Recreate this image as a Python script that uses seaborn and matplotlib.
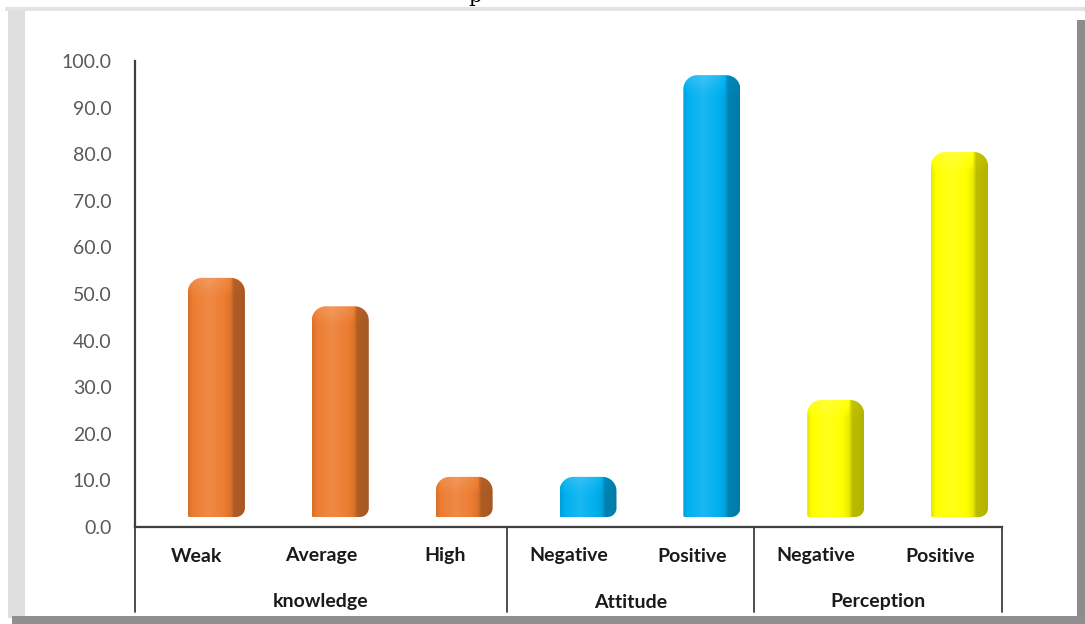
import numpy as np
import pandas as pd
import matplotlib
matplotlib.use("Agg")
import matplotlib.pyplot as plt
import seaborn as sns
from matplotlib.path import Path
from matplotlib.patches import PathPatch, Rectangle
from matplotlib.colors import to_rgb

# ---- data -------------------------------------------------------------
groups = ["knowledge", "knowledge", "knowledge", "Attitude", "Attitude", "Perception", "Perception"]
levels = ["Weak", "Average", "High", "Negative", "Positive", "Negative", "Positive"]
values = [49.6, 43.5, 6.9, 6.9, 93.1, 23.4, 76.6]
group_names = ["knowledge", "Attitude", "Perception"]
group_colors = {"knowledge": "#ED7D31", "Attitude": "#00B0F0", "Perception": "#FFFF00"}
yticks = [0, 10, 20, 30, 40, 50, 60, 70, 80, 90, 100]

df = pd.DataFrame({
    "item": [f"{g}|{l}" for g, l in zip(groups, levels)],
    "group": groups,
    "level": levels,
    "value": values,
})

# ---- figure -----------------------------------------------------------
W, H, DPI = 1085, 624, 100
sns.set_theme(style="white")
plt.rcParams["font.family"] = ["Lato", "DejaVu Sans"]

fig = plt.figure(figsize=(W / DPI, H / DPI), dpi=DPI, facecolor="white")
ax_left, ax_right, ax_top, ax_bottom = 135, 1002, 61, 527  # pixel box of plot area
ax = fig.add_axes([ax_left / W, 1 - ax_bottom / H,
                   (ax_right - ax_left) / W, (ax_bottom - ax_top) / H])
ax.set_facecolor("white")

sns.barplot(data=df, x="item", y="value", hue="group", palette=group_colors,
            dodge=False, width=0.46, legend=False, ax=ax, order=df["item"])

ax.set_xlim(-0.5, len(df) - 0.5)
ax.set_ylim(0, 100)
ax.set_yticks(yticks)
ax.set_yticklabels([f"{v:.1f}" for v in yticks], color="#595959", fontsize=14)
ax.tick_params(axis="y", length=0, pad=17)
ax.set_xticks([])
ax.set_xlabel("")
ax.set_ylabel("")
for side in ["top", "right"]:
    ax.spines[side].set_visible(False)
for side in ["left", "bottom"]:
    ax.spines[side].set_color("#3f3f3f")
    ax.spines[side].set_linewidth(1.6)

# ---- cylinder-style bars ---------------------------------------------
def rounded_path(x0, y0, x1, y1, r_tl, r_tr, r_br, r_bl, n=14):
    pts = []

    def arc(cx, cy, r, a0, a1):
        for a in np.linspace(a0, a1, n):
            pts.append((cx + r * np.cos(a), cy + r * np.sin(a)))

    arc(x0 + r_bl, y0 + r_bl, r_bl, np.pi, 1.5 * np.pi)
    arc(x1 - r_br, y0 + r_br, r_br, 1.5 * np.pi, 2 * np.pi)
    arc(x1 - r_tr, y1 - r_tr, r_tr, 0, 0.5 * np.pi)
    arc(x0 + r_tl, y1 - r_tl, r_tl, 0.5 * np.pi, np.pi)
    pts.append(pts[0])
    return np.array(pts)


def shade(color, f):
    c = np.array(to_rgb(color))
    if f >= 1:
        return c + (1 - c) * (f - 1)
    return c * f


# horizontal brightness profile across a bar (front face + dark side face)
prof_x = np.array([0.0, 0.08, 0.35, 0.62, 0.74, 0.80, 1.0])
prof_f = np.array([0.90, 1.00, 1.10, 1.00, 0.92, 0.74, 0.70])

fig.canvas.draw()
to_px = ax.transData
to_data = ax.transData.inverted()
dx_px, dy_px, cap_px, bar_w_px = 19.5, 10.0, 8.0, 57.0

bars = [p for p in ax.patches if p.get_height() > 0]
bars.sort(key=lambda p: p.get_x())
for patch, grp in zip(bars, df["group"]):
    color = group_colors[grp]
    xc = patch.get_x() + patch.get_width() / 2
    (cx, y0), = to_px.transform([(xc, 0)])
    (_, y1), = to_px.transform([(xc, patch.get_height())])
    px0 = cx + dx_px - bar_w_px / 2
    px1 = cx + dx_px + bar_w_px / 2
    py0 = y0 + dy_px
    py1 = y1 + dy_px + cap_px
    r_top = min(14.0, (py1 - py0) / 2)
    verts_px = rounded_path(px0, py0, px1, py1, r_top, r_top, 9.0, 1.5)
    verts = to_data.transform(verts_px)
    clip = PathPatch(Path(verts), facecolor="none", edgecolor="none")
    ax.add_patch(clip)

    nx, ny = 80, 60
    xs = np.linspace(0, 1, nx)
    fx = np.interp(xs, prof_x, prof_f)
    ys = np.linspace(0, 1, ny)  # 0 = top row
    height_px = py1 - py0
    top_zone = np.clip(1 - (ys * height_px) / (2.2 * cap_px), 0, 1)
    img = np.zeros((ny, nx, 3))
    for j in range(ny):
        for i in range(nx):
            f = fx[i] + 0.12 * top_zone[j] * (1 if xs[i] < 0.75 else 0.3)
            img[j, i] = np.clip(shade(color, f), 0, 1)
    (dx0, dy0), = to_data.transform([(px0, py0)])
    (dx1, dy1), = to_data.transform([(px1, py1)])
    im = ax.imshow(img, extent=(dx0, dx1, dy0, dy1), origin="upper",
                   aspect="auto", interpolation="bilinear", zorder=3)
    im.set_clip_path(clip)
    patch.set_visible(False)

ax.set_xlim(-0.5, len(df) - 0.5)
ax.set_ylim(0, 100)

# ---- two-level category axis ------------------------------------------
label_depth = (612 - ax_bottom) / (ax_bottom - ax_top)
trans = ax.get_xaxis_transform()
for i, lvl in enumerate(df["level"]):
    ax.text(i, -(556 - ax_bottom) / (ax_bottom - ax_top), lvl, transform=trans,
            ha="center", va="center", fontsize=14, fontweight="bold",
            color="#1a1a1a", clip_on=False)

bounds = [-0.5]
pos = 0
for g in group_names:
    n = sum(1 for x in groups if x == g)
    mid = pos + (n - 1) / 2
    ax.text(mid, -(602 - ax_bottom) / (ax_bottom - ax_top), g, transform=trans,
            ha="center", va="center", fontsize=14, fontweight="bold",
            color="#1a1a1a", clip_on=False)
    pos += n
    bounds.append(pos - 0.5)
for b in bounds:
    ax.plot([b, b], [0, -label_depth], transform=trans, color="#3f3f3f",
            lw=1.3, clip_on=False, zorder=5)

# ---- outer frame ------------------------------------------------------
def px_rect(x0, y0, x1, y1, color, z=0):
    fig.add_artist(Rectangle((x0 / W, 1 - y1 / H), (x1 - x0) / W, (y1 - y0) / H,
                             transform=fig.transFigure, facecolor=color,
                             edgecolor="none", zorder=z))

px_rect(5, 7, 1085, 11, "#e3e3e3")
px_rect(8, 11, 25, 618, "#dedede")
px_rect(1077, 20, 1085, 624, "#8c8c8c")
px_rect(12, 616, 1085, 624, "#8f8f8f")

# caption line above the frame, mostly outside the canvas
fig.text(475 / W, 1 + 3 / H, "p", ha="center", va="center", fontsize=15,
         family="DejaVu Serif", color="black")

fig.savefig("out.png", dpi=DPI, facecolor="white")
